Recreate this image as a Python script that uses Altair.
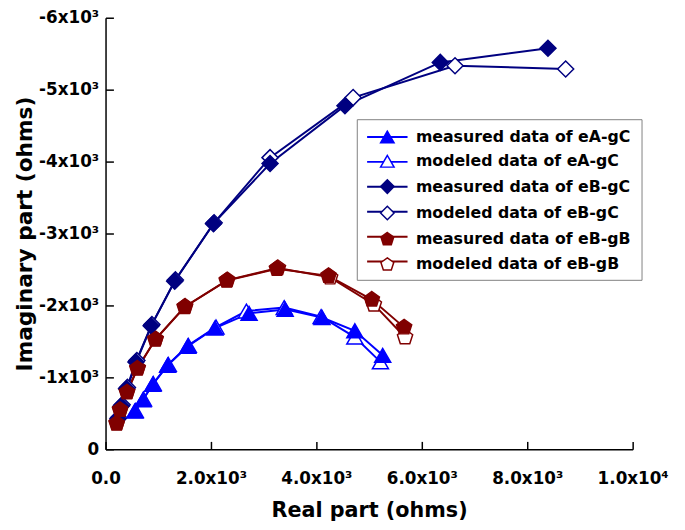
import altair as alt
import pandas as pd

# ---------------- data (ohms) ----------------
series_names = [
    "measured data of eA-gC",
    "modeled data of eA-gC",
    "measured data of eB-gC",
    "modeled data of eB-gC",
    "measured data of eB-gB",
    "modeled data of eB-gB",
]

eA_meas_real = [555, 710, 897, 1178, 1561, 2075, 2723, 3407, 4107, 4729, 5258]
eA_meas_imag = [-530, -689, -904, -1168, -1432, -1685, -1890, -1945, -1832, -1648, -1306]
eA_mod_real = [565, 720, 905, 1190, 1570, 2095, 2673, 3390, 4090, 4729, 5215]
eA_mod_imag = [-540, -700, -915, -1180, -1445, -1700, -1922, -1970, -1845, -1560, -1215]

eBgC_meas_real = [234, 299, 398, 576, 865, 1312, 2047, 3121, 4542, 6350, 8393]
eBgC_meas_imag = [-425, -603, -842, -1215, -1716, -2338, -3137, -3973, -4777, -5379, -5575]
eBgC_mod_real = [250, 315, 415, 595, 880, 1325, 2060, 3121, 4697, 6630, 8729]
eBgC_mod_imag = [-440, -620, -860, -1235, -1735, -2355, -3150, -4055, -4890, -5333, -5288]

eBgB_meas_real = [211, 275, 406, 604, 944, 1501, 2299, 3252, 4230, 5052, 5664]
eBgB_meas_imag = [-359, -548, -792, -1123, -1525, -1979, -2345, -2511, -2411, -2082, -1695]
eBgB_mod_real = [215, 280, 410, 610, 950, 1510, 2310, 3270, 4260, 5090, 5682]
eBgB_mod_imag = [-365, -555, -800, -1130, -1532, -1985, -2352, -2520, -2390, -2014, -1558]

x_ticks = [0, 2000, 4000, 6000, 8000, 10000]
y_ticks = [-6000, -5000, -4000, -3000, -2000, -1000, 0]

# ---------------- styles ----------------
line_colors = ["#0000FF", "#0000FF", "#000080", "#000080", "#800000", "#800000"]
fill_colors = ["#0000FF", "#FFFFFF", "#000080", "#FFFFFF", "#800000", "#FFFFFF"]
PENT = "M0,-1L0.951,-0.309L0.588,0.809L-0.588,0.809L-0.951,-0.309Z"
shape_range = ["triangle-up", "triangle-up", "diamond", "diamond", PENT, PENT]

groups = [
    (series_names[1], eA_mod_real, eA_mod_imag),
    (series_names[3], eBgC_mod_real, eBgC_mod_imag),
    (series_names[5], eBgB_mod_real, eBgB_mod_imag),
    (series_names[0], eA_meas_real, eA_meas_imag),
    (series_names[2], eBgC_meas_real, eBgC_meas_imag),
    (series_names[4], eBgB_meas_real, eBgB_meas_imag),
]
rows = []
for name, xs, ys in groups:
    for i, (xv, yv) in enumerate(zip(xs, ys)):
        rows.append({"series": name, "sid": series_names.index(name),
                     "real": xv, "imag": yv, "idx": i})
df = pd.DataFrame(rows)

W, H = 535, 438
FONT = "DejaVu Sans"
LX, LY = 255, 103
LEG_COMMON = dict(
    orient="none", legendX=LX, legendY=LY, title=None,
    symbolSize=187, symbolOffset=13,
    labelFont=FONT, labelFontSize=16, labelFontWeight="bold",
    labelLimit=400, labelOffset=21, padding=10,
)

xscale = alt.Scale(domain=[0, 10000], nice=False, zero=False)
yscale = alt.Scale(domain=[-6000, 0], reverse=True, nice=False, zero=False)

x_axis = alt.Axis(
    values=x_ticks,
    labelExpr="datum.value == 0 ? '0.0' : (datum.value == 10000 ? '1.0x10⁴' : format(datum.value/1000, '.1f') + 'x10³')",
    ticks=False, grid=False, domainColor="black", domainWidth=1.5,
    labelFont=FONT, labelFontSize=17, labelFontWeight="bold", labelColor="black",
    labelPadding=22, labelFlush=False, labelOverlap=False,
    title="Real part (ohms)", titleFont=FONT, titleFontSize=21, titleFontWeight="bold",
    titleColor="black", titlePadding=13,
)
y_axis = alt.Axis(
    values=y_ticks,
    labelExpr="datum.value == 0 ? '0' : '-' + abs(datum.value/1000) + 'x10³'",
    ticks=False, grid=False, domainColor="black", domainWidth=1.5,
    labelFont=FONT, labelFontSize=17, labelFontWeight="bold", labelColor="black",
    labelPadding=7, labelFlush=False, labelOverlap=False,
    title="Imaginary part (ohms)", titleFont=FONT, titleFontSize=22, titleFontWeight="bold",
    titleColor="black", titlePadding=2,
)

# legend of the lines (labels hidden, drawn under the symbol legend)
line_legend = alt.Legend(
    symbolType="M-3,0L3,0", symbolStrokeWidth=2, labelOpacity=0,
    strokeColor="#808080", rowPadding=9.3, **LEG_COMMON,
)
# legend of the markers, with the visible labels
shape_legend = alt.Legend(
    symbolStrokeWidth=1.5, labelColor="black", rowPadding=6.7, **LEG_COMMON,
)

lines = alt.Chart(df).mark_line(strokeWidth=2).encode(
    x=alt.X("real:Q", scale=xscale, axis=x_axis),
    y=alt.Y("imag:Q", scale=yscale, axis=y_axis),
    color=alt.Color("series:N", sort=alt.EncodingSortField(field="sid", op="min"),
                    scale=alt.Scale(range=line_colors), legend=line_legend),
    order=alt.Order("idx:Q"),
)

points = alt.Chart(df).mark_point(opacity=1, strokeWidth=1.5, size=265).encode(
    x=alt.X("real:Q", scale=xscale, axis=None),
    y=alt.Y("imag:Q", scale=yscale, axis=None),
    shape=alt.Shape("series:N", scale=alt.Scale(domain=series_names, range=shape_range), legend=shape_legend),
    fill=alt.Fill("series:N", scale=alt.Scale(domain=series_names, range=fill_colors), legend=shape_legend),
    stroke=alt.Stroke("series:N", scale=alt.Scale(domain=series_names, range=line_colors), legend=shape_legend),
)

tick_layer = alt.Chart(df).mark_point(opacity=0).encode(
    x=alt.X("real:Q", scale=xscale, axis=alt.Axis(
        orient="top", offset=-H, values=x_ticks, labels=False, domain=False,
        ticks=True, tickSize=8, tickColor="black", tickWidth=1.5, grid=False, title=None)),
    y=alt.Y("imag:Q", scale=yscale, axis=alt.Axis(
        orient="right", offset=-W, values=y_ticks, labels=False, domain=False,
        ticks=True, tickSize=8, tickColor="black", tickWidth=1.5, grid=False, title=None)),
)

chart = (
    alt.layer(lines, points, tick_layer)
    .resolve_axis(x="independent", y="independent")
    .properties(
        width=W, height=H,
        autosize=alt.AutoSizeParams(type="none"),
        padding={"left": 99, "top": 6, "right": 45, "bottom": 76},
        background="white",
    )
    .configure_view(stroke=None)
)

chart.save("out.html", embed_options={"renderer": "svg", "actions": False})
